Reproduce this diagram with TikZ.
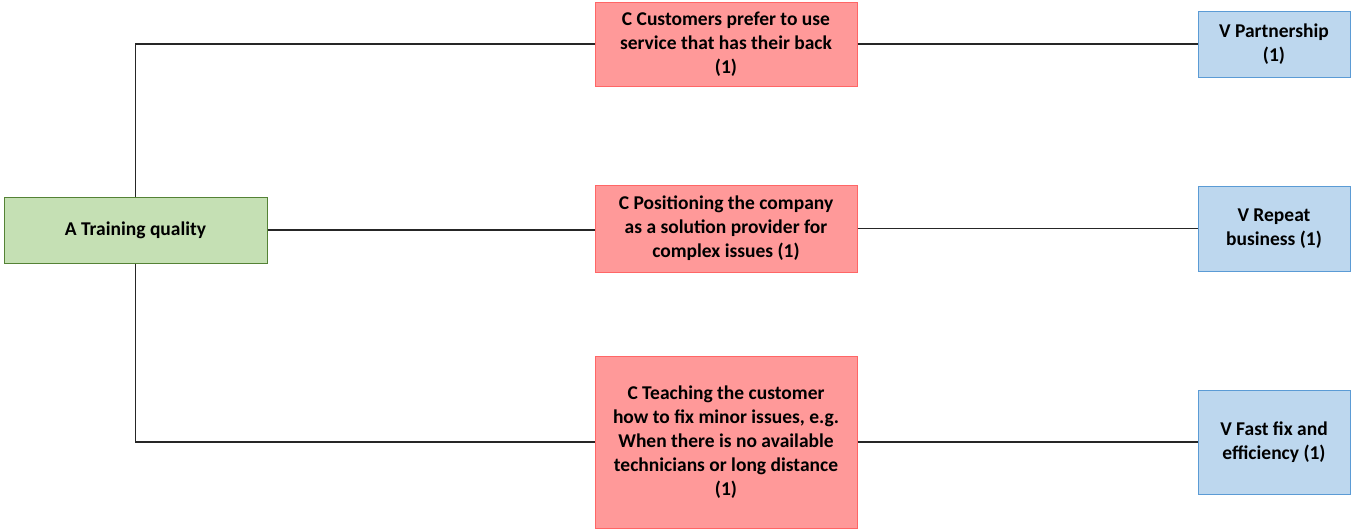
\documentclass[tikz,border=0pt]{standalone}
\usepackage{fontspec}
\setmainfont{Carlito}
\definecolor{gfill}{HTML}{C5E0B4}
\definecolor{gdraw}{HTML}{548235}
\definecolor{rfill}{HTML}{FF9999}
\definecolor{rdraw}{HTML}{FF6666}
\definecolor{bfill}{HTML}{BDD7EE}
\definecolor{bdraw}{HTML}{5B9BD5}
\tikzset{
  box/.style={rectangle, line width=1pt, align=center, inner sep=0pt,
    font=\fontsize{19.5}{24}\selectfont\bfseries},
  abox/.style={box, fill=gfill, draw=gdraw},
  cbox/.style={box, fill=rfill, draw=rdraw},
  vbox/.style={box, fill=bfill, draw=bdraw},
  conn/.style={line width=1.2pt, black!85}
}
\begin{document}
\begin{tikzpicture}[x=1pt,y=-1pt]
\useasboundingbox (0,0) rectangle (1353,528);
\node[abox, minimum width=263pt, minimum height=66pt] (a) at (135.5,230) {A Training quality};
\node[cbox, minimum width=262pt, minimum height=84pt] (c1) at (726,44) {C Customers prefer to use\\service that has their back\\(1)};
\node[cbox, minimum width=262pt, minimum height=87pt] (c2) at (726,228.5) {C Positioning the company\\as a solution provider for\\complex issues (1)};
\node[cbox, minimum width=262pt, minimum height=172pt] (c3) at (726,442) {C Teaching the customer\\how to fix minor issues, e.g.\\When there is no available\\technicians or long distance\\(1)};
\node[vbox, minimum width=152pt, minimum height=66pt] (v1) at (1274,44) {V Partnership\\(1)};
\node[vbox, minimum width=152pt, minimum height=85pt] (v2) at (1274,228.5) {V Repeat\\business (1)};
\node[vbox, minimum width=152pt, minimum height=104pt] (v3) at (1274,442) {V Fast fix and\\efficiency (1)};
\draw[conn] (a.north) |- (c1.west);
\draw[conn] (a.east) -- (a.east -| c2.west);
\draw[conn] (a.south) |- (c3.west);
\draw[conn] (c1.east) -- (v1.west);
\draw[conn] (c2.east) -- (v2.west);
\draw[conn] (c3.east) -- (v3.west);
\end{tikzpicture}
\end{document}
